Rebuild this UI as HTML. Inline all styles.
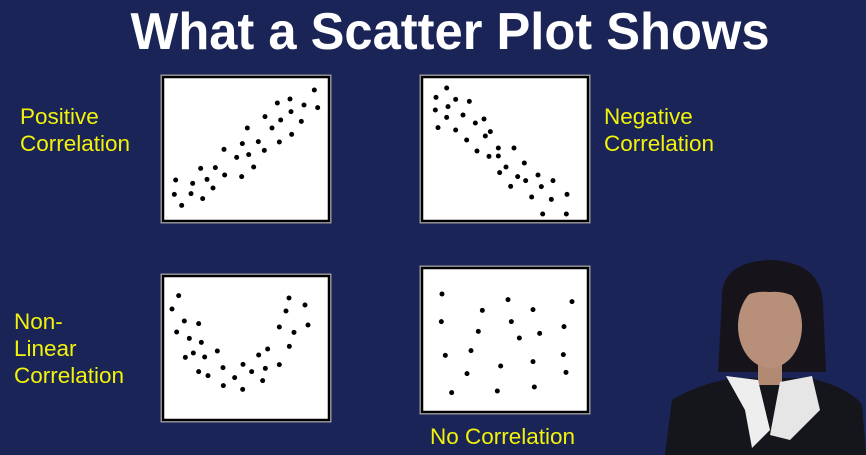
<!DOCTYPE html>
<html><head><meta charset="utf-8"><style>
html,body{margin:0;padding:0;background:#1a2456;}
svg{display:block;}
.lbl{font-family:"Liberation Sans",sans-serif;font-size:22.5px;fill:#f2f20a;}
</style></head><body>
<svg id="s" width="866" height="455" viewBox="0 0 866 455" xmlns="http://www.w3.org/2000/svg">
<rect width="866" height="455" fill="#1a2456"/>
<text x="450" y="49" text-anchor="middle" textLength="639" lengthAdjust="spacingAndGlyphs" font-family="Liberation Sans, sans-serif" font-weight="bold" font-size="52" fill="#fff">What a Scatter Plot Shows</text>
<g><text class="lbl" x="20" y="124">Positive</text><text class="lbl" x="20" y="151">Correlation</text></g>
<g><text class="lbl" x="604" y="124">Negative</text><text class="lbl" x="604" y="151">Correlation</text></g>
<g><text class="lbl" x="14" y="329">Non-</text><text class="lbl" x="14" y="356">Linear</text><text class="lbl" x="14" y="383">Correlation</text></g>
<text class="lbl" x="430" y="444">No Correlation</text>
<g id="plots"></g>
<g>
<path d="M665 455 L672 400 Q700 383 735 378 L810 378 Q850 388 862 405 L866 455 Z" fill="#15151c"/>
<path d="M722 300 Q720 262 770 260 Q822 262 823 305 L826 372 L718 372 Z" fill="#17131a"/>
<rect x="758" y="355" width="24" height="30" fill="#b28a74"/>
<ellipse cx="770" cy="326" rx="32" ry="42" fill="#b89079"/>
<path d="M735 303 Q740 272 770 270 Q802 272 806 305 Q790 290 770 292 Q748 290 735 303Z" fill="#17131a"/>
<path d="M726 376 L758 380 L770 430 L752 448 L745 410 Z" fill="#eeeeee"/>
<path d="M812 376 L780 382 L770 435 L790 440 L820 410 Z" fill="#e6e6e6"/>
</g>
</svg>
<script>
// Data: raw dot coordinates, in 1/3-pixel data units relative to each panel origin
const posX=[62,58,80,113,108,143,137,156,174,181,209,207,245,260,262,281,277,296,310,328,330,351,367,373,377,405,408,410,439,447,478,488];
const posY=[330,373,406,340,371,386,295,328,354,293,315,238,262,320,221,254,174,291,215,241,140,174,99,216,150,87,125,193,154,105,60,113];
const negX=[843,875,841,879,902,943,875,849,902,924,961,987,935,991,1006,966,1002,1030,1030,1077,1053,1034,1108,1088,1112,1067,1149,1159,1194,1130,1189,1236,1163,1234];
const negY=[82,54,120,110,88,94,142,173,180,135,159,147,210,198,185,243,259,234,258,234,291,308,279,320,332,349,315,350,332,381,388,373,432,432];
const nlX=[71,51,88,131,65,103,139,91,115,149,187,131,159,204,205,239,264,263,290,311,323,331,338,373,373,393,402,403,417,450,459];
const nlY=[101,141,177,185,210,229,241,286,273,285,267,329,341,317,371,347,307,382,329,279,356,319,261,195,308,147,108,253,211,129,189];
const ncX=[861,859,871,890,936,948,970,982,1027,1037,1059,1069,1093,1134,1134,1138,1154,1227,1225,1233,1251];
const ncY=[96,179,280,392,335,266,208,145,387,312,113,179,228,143,299,375,214,194,278,331,119];

const NS='http://www.w3.org/2000/svg';
const g=document.getElementById('plots');
function sx(v){return 155+v/3;}
function syTop(v){return 70+v/3;}
function syBot(v){return 262+v/3;}
function panel(name,x,y,w,h,xs,ys,yf){
  const grp=document.createElementNS(NS,'g');
  
  
  const o=document.createElementNS(NS,'rect');
  o.setAttribute('x',x);o.setAttribute('y',y);o.setAttribute('width',w);o.setAttribute('height',h);
  o.setAttribute('fill','#fff');o.setAttribute('stroke','#999');o.setAttribute('stroke-width','1');
  
  
  grp.appendChild(o);
  const r=document.createElementNS(NS,'rect');
  r.setAttribute('x',x+2);r.setAttribute('y',y+2);r.setAttribute('width',w-4);r.setAttribute('height',h-4);
  r.setAttribute('fill','#fff');r.setAttribute('stroke','#000');r.setAttribute('stroke-width','2.5');
  
  
  grp.appendChild(r);
  for(let i=0;i<xs.length;i++){
    const c=document.createElementNS(NS,'circle');
    c.setAttribute('cx',sx(xs[i]));c.setAttribute('cy',yf(ys[i]));c.setAttribute('r','2.5');c.setAttribute('fill','#000');
    
    
    grp.appendChild(c);
  }
  g.appendChild(grp);
}
panel('positive-correlation-plot',161,75,170,148,posX,posY,syTop);
panel('negative-correlation-plot',420,75,170,148,negX,negY,syTop);
panel('nonlinear-correlation-plot',161,274,170,148,nlX,nlY,syBot);
panel('no-correlation-plot',420,266,170,148,ncX,ncY,syBot);
</script>
</body></html>
